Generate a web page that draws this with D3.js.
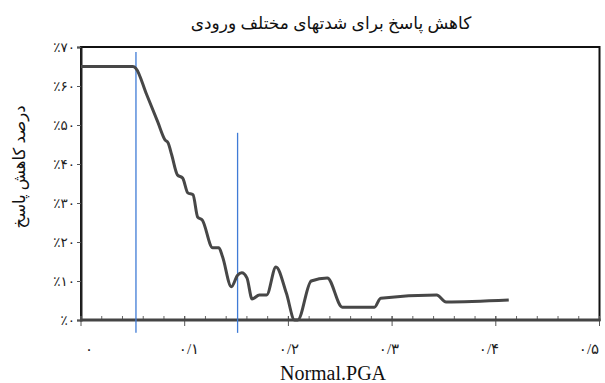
<!DOCTYPE html>
<html>
<head>
<meta charset="utf-8">
<script src="https://cdn.jsdelivr.net/npm/d3@7"></script>
<style>
  body { margin: 0; background: #fff; }
  text { font-family: "Liberation Serif", "DejaVu Sans", serif; }
</style>
</head>
<body>
<div id="chart"></div>
<script>
// values
var pga = [0, 0.050, 0.053, 0.063, 0.074, 0.081, 0.084, 0.0875, 0.093, 0.098, 0.103, 0.108, 0.1125, 0.117,
    0.127, 0.133, 0.1365, 0.145, 0.151, 0.155, 0.160, 0.165, 0.172, 0.179, 0.188, 0.198, 0.206, 0.209,
    0.222, 0.2375, 0.252, 0.283, 0.289, 0.343, 0.352, 0.4125];
var reduction = [0.65, 0.65, 0.645, 0.58, 0.508, 0.462, 0.454, 0.423, 0.372, 0.364, 0.326, 0.321, 0.264, 0.256,
    0.185, 0.185, 0.162, 0.085, 0.115, 0.121, 0.108, 0.054, 0.064, 0.064, 0.136, 0.069, 0.0, 0.0,
    0.1, 0.108, 0.033, 0.033, 0.056, 0.064, 0.046, 0.051];

// the two blue marker lines
var markerX = [0.053, 0.151];
var markerTop = [0.687, 0.48];
var markerBottom = -0.033;

var yTicks = [0, 0.1, 0.2, 0.3, 0.4, 0.5, 0.6, 0.7];
var yTickLabels = ["٪۰", "٪۱۰", "٪۲۰", "٪۳۰", "٪۴۰", "٪۵۰", "٪۶۰", "٪۷۰"];
var xTicks = [0, 0.1, 0.2, 0.3, 0.4, 0.5];
var xTickLabels = ["۰", "۰/۱", "۰/۲", "۰/۳", "۰/۴", "۰/۵"];

var chartTitle = "کاهش پاسخ برای شدتهای مختلف ورودی";
var yTitle = "درصد کاهش پاسخ";
var xTitle = "Normal.PGA";

var width = 605, height = 383;
var margin = { top: 47, right: 5, bottom: 63, left: 81 };

var svg = d3.select("#chart").append("svg")
    .attr("width", width)
    .attr("height", height);

var x = d3.scaleLinear().domain([0, 0.5]).range([margin.left, width - margin.right - 0.5]);
var y = d3.scaleLinear().domain([0, 0.7]).range([height - margin.bottom, margin.top]);
// Excel-like label placement, slightly drifting from the ticks
var xLabel = d3.scaleLinear().domain([0, 0.5]).range([89, 589]);

// plot frame (top and right)
svg.append("rect")
    .attr("x", x(0))
    .attr("y", y(0.7))
    .attr("width", x(0.5) - x(0))
    .attr("height", y(0) - y(0.7))
    .attr("fill", "none")
    .attr("stroke", "#111")
    .attr("stroke-width", 2);

// y axis
var yAxis = svg.append("g")
    .attr("transform", "translate(" + x(0) + ",0)")
    .call(d3.axisLeft(y).tickValues(yTicks).tickSize(4).tickFormat(function (d, i) { return yTickLabels[i]; }));
yAxis.select(".domain").attr("stroke", "#222").attr("stroke-width", 2);
yAxis.selectAll(".tick line").attr("stroke", "#555");
yAxis.selectAll(".tick text")
    .attr("x", -6)
    .style("font-size", "13.5px")
    .attr("fill", "#222");

// x axis: minor ticks inside, major ticks crossing
var minor = d3.range(0, 0.5001, 0.02);
svg.append("g").selectAll("line")
    .data(minor)
    .join("line")
    .attr("x1", d => x(d)).attr("x2", d => x(d))
    .attr("y1", y(0) - 4).attr("y2", y(0))
    .attr("stroke", "#666").attr("stroke-width", 1);
svg.append("g").selectAll("line")
    .data(xTicks)
    .join("line")
    .attr("x1", d => x(d)).attr("x2", d => x(d))
    .attr("y1", y(0) - 4).attr("y2", y(0) + 6)
    .attr("stroke", "#555").attr("stroke-width", 1);
svg.append("line")
    .attr("x1", x(0) - 1).attr("x2", x(0.5) + 1)
    .attr("y1", y(0)).attr("y2", y(0))
    .attr("stroke", "#444").attr("stroke-width", 3);

svg.append("g").selectAll("text")
    .data(xTicks)
    .join("text")
    .attr("x", d => xLabel(d))
    .attr("y", 354)
    .attr("text-anchor", "middle")
    .style("font-size", "15px")
    .attr("fill", "#222")
    .text(function (d, i) { return xTickLabels[i]; });

// blue marker lines
svg.append("g").selectAll("line")
    .data(markerX)
    .join("line")
    .attr("x1", d => x(d)).attr("x2", d => x(d))
    .attr("y1", function (d, i) { return y(markerTop[i]); })
    .attr("y2", y(markerBottom))
    .attr("stroke", "#3f7bd6")
    .attr("stroke-width", 1.3);

// data line
var line = d3.line()
    .x(function (d, i) { return x(pga[i]); })
    .y(function (d) { return y(d); })
    .curve(d3.curveMonotoneX);

svg.append("path")
    .datum(reduction)
    .attr("d", line)
    .attr("fill", "none")
    .attr("stroke", "#474747")
    .attr("stroke-width", 3)
    .attr("stroke-linejoin", "round");

// titles
svg.append("text")
    .attr("x", 331)
    .attr("y", 29)
    .attr("text-anchor", "middle")
    .style("font-size", "17px")
    .attr("fill", "#111")
    .text(chartTitle);

svg.append("text")
    .attr("transform", "translate(25,167) rotate(-90)")
    .attr("text-anchor", "middle")
    .style("font-size", "16.5px")
    .attr("fill", "#111")
    .text(yTitle);

svg.append("text")
    .attr("x", 333)
    .attr("y", 380)
    .attr("text-anchor", "middle")
    .style("font-size", "20px")
    .attr("fill", "#111")
    .text(xTitle);
</script>
</body>
</html>
